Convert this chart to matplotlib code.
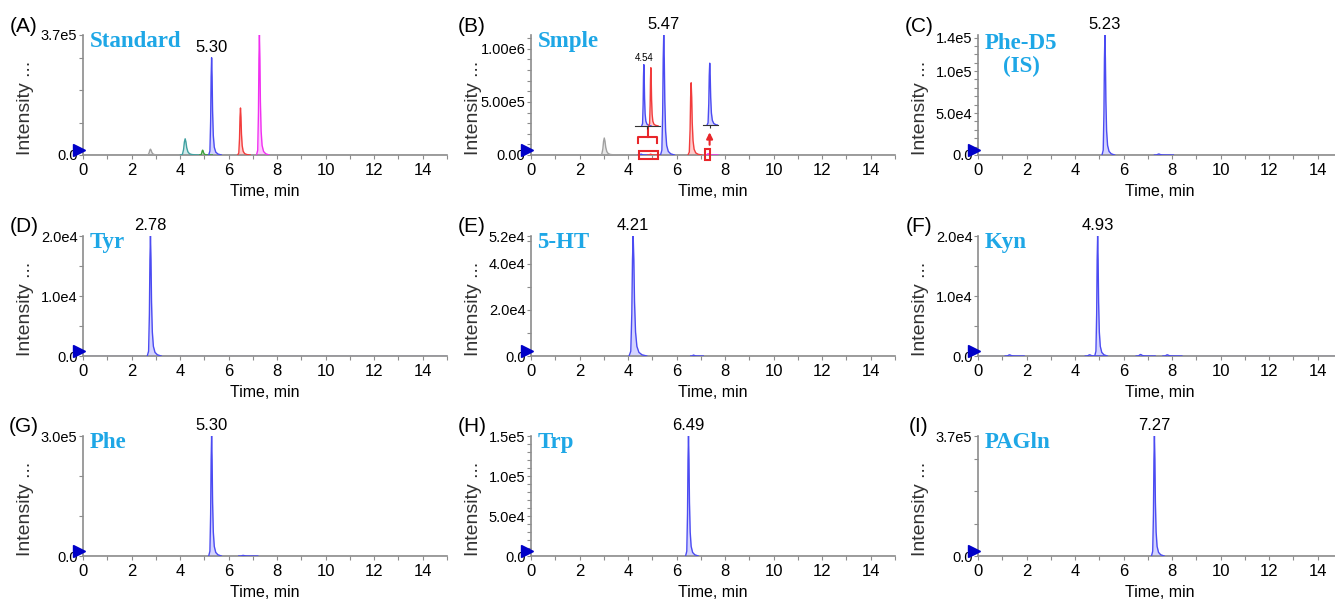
'''
MRM chromatograms of the standard mix, a sample and the single analytes.
'''

import numpy as np
import matplotlib.pyplot as plt
from matplotlib.patches import Rectangle
from matplotlib.ticker import FixedLocator, MultipleLocator

plt.rcParams['font.family'] = ['Liberation Sans', 'DejaVu Sans']

# panel texts
panel_tags = ['(A)', '(B)', '(C)', '(D)', '(E)', '(F)', '(G)', '(H)', '(I)']
panel_names = ['Standard', 'Smple', 'Phe-D5\n(IS)', 'Tyr', '5-HT', 'Kyn', 'Phe', 'Trp', 'PAGln']

# peaks per panel: retention time (min), height (cps), colour, relative width
peak_rt = [
    [2.78, 4.21, 4.93, 5.30, 6.49, 7.27],
    [3.02, 4.54, 4.93, 5.47, 6.60, 7.30],
    [5.23, 7.45],
    [2.78],
    [4.21, 6.70],
    [1.30, 4.60, 4.93, 6.70, 7.80],
    [5.30, 6.60],
    [6.49],
    [7.27],
]
peak_height = [
    [1.8e4, 5.0e4, 1.5e4, 3.0e5, 1.45e5, 3.7e5],
    [1.6e5, 8.0e3, 7.6e3, 1.13e6, 6.8e5, 1.2e4],
    [1.43e5, 1.2e3],
    [2.0e4],
    [5.2e4, 4.0e2],
    [2.0e2, 2.0e2, 2.0e4, 2.5e2, 2.0e2],
    [3.0e5, 1.5e3],
    [1.5e5],
    [3.7e5],
]
peak_color = [
    ['gray', 'teal', 'green', 'blue', 'red', 'magenta'],
    ['gray', 'blue', 'red', 'blue', 'red', 'magenta'],
    ['blue', 'blue'],
    ['blue'],
    ['blue', 'blue'],
    ['blue', 'blue', 'blue', 'blue', 'blue'],
    ['blue', 'blue'],
    ['blue'],
    ['blue'],
]
peak_width = [
    [1.4, 1.6, 1.0, 1.0, 1.0, 1.0],
    [1.5, 1.0, 1.0, 1.1, 1.1, 1.0],
    [1.0, 1.5],
    [1.1],
    [1.4, 1.0],
    [1.5, 1.5, 1.0, 1.5, 1.5],
    [1.0, 1.5],
    [1.0],
    [1.0],
]
label_rt = [5.30, 5.47, 5.23, 2.78, 4.21, 4.93, 5.30, 6.49, 7.27]
baseline_color = ['gray', 'gray', 'gray', 'blue', 'gray', 'blue', 'gray', 'gray', 'gray']

# common peak profile (offset in min, fraction of height)
profile_dt = [-0.12, -0.07, -0.04, -0.02, 0.0, 0.02, 0.04, 0.07, 0.11, 0.17, 0.26, 0.40]
profile_rel = [0.0, 0.04, 0.35, 0.80, 1.0, 0.80, 0.45, 0.20, 0.08, 0.03, 0.01, 0.0]

# y axes
y_top = [3.7e5, 1.13e6, 1.43e5, 2.0e4, 5.2e4, 2.0e4, 3.0e5, 1.5e5, 3.7e5]
y_ticks = [[0, 3.7e5], [0, 5e5, 1e6], [0, 5e4, 1e5, 1.4e5], [0, 1e4, 2e4],
           [0, 2e4, 4e4, 5.2e4], [0, 1e4, 2e4], [0, 3e5], [0, 5e4, 1e5, 1.5e5], [0, 3.7e5]]
y_ticklabels = [['0.0', '3.7e5'], ['0.00', '5.00e5', '1.00e6'], ['0.0', '5.0e4', '1.0e5', '1.4e5'],
                ['0.0', '1.0e4', '2.0e4'], ['0.0', '2.0e4', '4.0e4', '5.2e4'], ['0.0', '1.0e4', '2.0e4'],
                ['0.0', '3.0e5'], ['0.0', '5.0e4', '1.0e5', '1.5e5'], ['0.0', '3.7e5']]
y_minor = [1e5, 1e5, 1e4, 5e3, 1e4, 5e3, 1e5, 1e4, 1e5]

# zoomed insets in (B)
inset1_rt = [4.54, 4.93]
inset1_h = [8.0e3, 7.6e3]
inset1_col = ['blue', 'red']
inset2_rt = [7.27]
inset2_h = [1.2e4]
inset2_col = ['blue']

line_col = {'blue': '#4b4bf2', 'red': '#f23c3c', 'magenta': '#f030f0',
            'teal': '#3fa0a0', 'green': '#3ea03e', 'gray': '#a0a0a0'}
fill_col = {'blue': '#d4d4ff', 'red': '#ffcccc', 'magenta': '#ffc8ff',
            'teal': '#cfeaea', 'green': '#cfeacf', 'gray': '#e6e6e6'}
title_col = '#1ea7e6'
spine_col = '#8c8c8c'

W, H = 1335, 604
col_left = [83, 531, 978]
row_base = [155, 356, 556]
ax_w, ax_h = 364, 120


def draw_peaks(ax, rts, hs, cols, widths=None):
    for i, (rt, h, c) in enumerate(zip(rts, hs, cols)):
        w = widths[i] if widths else 1.0
        x = [rt + d * w for d in profile_dt]
        y = [h * r for r in profile_rel]
        ax.fill_between(x, 0, y, color=fill_col[c], lw=0, zorder=2)
        ax.plot(x, y, color=line_col[c], lw=1.0, zorder=3)


fig = plt.figure(figsize=(W / 100, H / 100), dpi=100)

for k in range(9):
    r, c = divmod(k, 3)
    ax = fig.add_axes([col_left[c] / W, (H - row_base[r]) / H, ax_w / W, ax_h / H])
    ax.set_xlim(0, 15)
    ax.set_ylim(0, y_top[k])

    # baseline of the trace, then the peaks
    ax.plot([0, 15], [0, 0], color=line_col[baseline_color[k]], lw=1.0, zorder=2)
    draw_peaks(ax, peak_rt[k], peak_height[k], peak_color[k], peak_width[k])

    # retention time label over the main peak
    i = peak_rt[k].index(label_rt[k])
    ax.annotate('{:.2f}'.format(label_rt[k]), (label_rt[k], peak_height[k][i]),
                xytext=(0, 2), textcoords='offset points', ha='center', va='bottom',
                fontsize=12, annotation_clip=False)

    # axes look
    for s in ['top', 'right']:
        ax.spines[s].set_visible(False)
    for s in ['left', 'bottom']:
        ax.spines[s].set_color(spine_col)
        ax.spines[s].set_linewidth(1.2)
    ax.xaxis.set_major_locator(MultipleLocator(2))
    ax.xaxis.set_minor_locator(MultipleLocator(1))
    ax.yaxis.set_major_locator(FixedLocator(y_ticks[k]))
    ax.yaxis.set_minor_locator(MultipleLocator(y_minor[k]))
    ax.set_yticklabels(y_ticklabels[k])
    ax.tick_params(axis='both', which='both', color=spine_col, length=3, width=0.8)
    ax.tick_params(axis='x', labelsize=12, pad=3)
    ax.tick_params(axis='y', labelsize=10.5, pad=1)
    ax.set_xlabel('Time, min', fontsize=11.5, labelpad=4)

    ax.text(-0.157, 0.39, 'Intensity ...', transform=ax.transAxes, rotation=90,
            ha='center', va='center', fontsize=14, color='#333333')
    ax.text(-0.162, 1.075, panel_tags[k], transform=ax.transAxes, ha='center', va='center',
            fontsize=15)

    # blue start marker on the y axis
    ax.plot([-0.012], [0.045], marker='>', color='#0000c8', markersize=9,
            transform=ax.transAxes, clip_on=False, zorder=5)

    # compound name
    if '\n' in panel_names[k]:
        ax.text(0.118, 1.02, panel_names[k], transform=ax.transAxes, ha='center', va='top',
                fontsize=16.5, fontweight='bold', color=title_col, linespacing=1.15,
                family=['Liberation Serif', 'DejaVu Serif'])
    else:
        ax.text(0.018, 0.945, panel_names[k], transform=ax.transAxes, ha='left', va='center',
                fontsize=16.5, fontweight='bold', color=title_col,
                family=['Liberation Serif', 'DejaVu Serif'])

    if k == 1:
        # enlarged views of the small peaks
        ins1 = ax.inset_axes([4.28, 2.74e5, 1.03, 6.2e5], transform=ax.transData)
        ins1.set_xlim(4.04, 5.43)
        ins1.set_ylim(0, 8.6e3)
        draw_peaks(ins1, inset1_rt, inset1_h, inset1_col)
        ins1.annotate('4.54', (inset1_rt[0], inset1_h[0]), xytext=(0, 1.5),
                      textcoords='offset points', ha='center', va='bottom', fontsize=7)
        ins2 = ax.inset_axes([7.07, 2.79e5, 0.62, 6.1e5], transform=ax.transData)
        ins2.set_xlim(6.97, 7.6)
        ins2.set_ylim(0, 1.25e4)
        draw_peaks(ins2, inset2_rt, inset2_h, inset2_col)
        for ins in [ins1, ins2]:
            ins.patch.set_visible(False)
            for s in ['top', 'right', 'left']:
                ins.spines[s].set_visible(False)
            ins.spines['bottom'].set_color('#333333')
            ins.set_yticks([])
            ins.set_xticks([np.mean(ins.get_xlim())])
            ins.set_xticklabels([])
            ins.tick_params(axis='x', length=2, color='#333333')

        red = '#e8262a'
        ax.plot([4.42, 4.42, 5.20, 5.20], [1.13e5, 1.70e5, 1.70e5, 1.13e5], color=red, lw=1.5)
        ax.plot([4.81, 4.81], [1.70e5, 2.64e5], color=red, lw=1.5)
        ax.add_patch(Rectangle((4.46, -4.2e4), 0.79, 8.4e4, fill=False, ec=red, lw=1.5,
                               clip_on=False, zorder=6))
        ax.add_patch(Rectangle((7.19, -4.7e4), 0.17, 1.04e5, fill=False, ec=red, lw=1.5,
                               clip_on=False, zorder=6))
        ax.annotate('', xy=(7.36, 2.40e5), xytext=(7.36, 7.0e4),
                    arrowprops=dict(arrowstyle='-|>', color=red, lw=1.5, mutation_scale=9))

plt.savefig('out.png', dpi=100)
